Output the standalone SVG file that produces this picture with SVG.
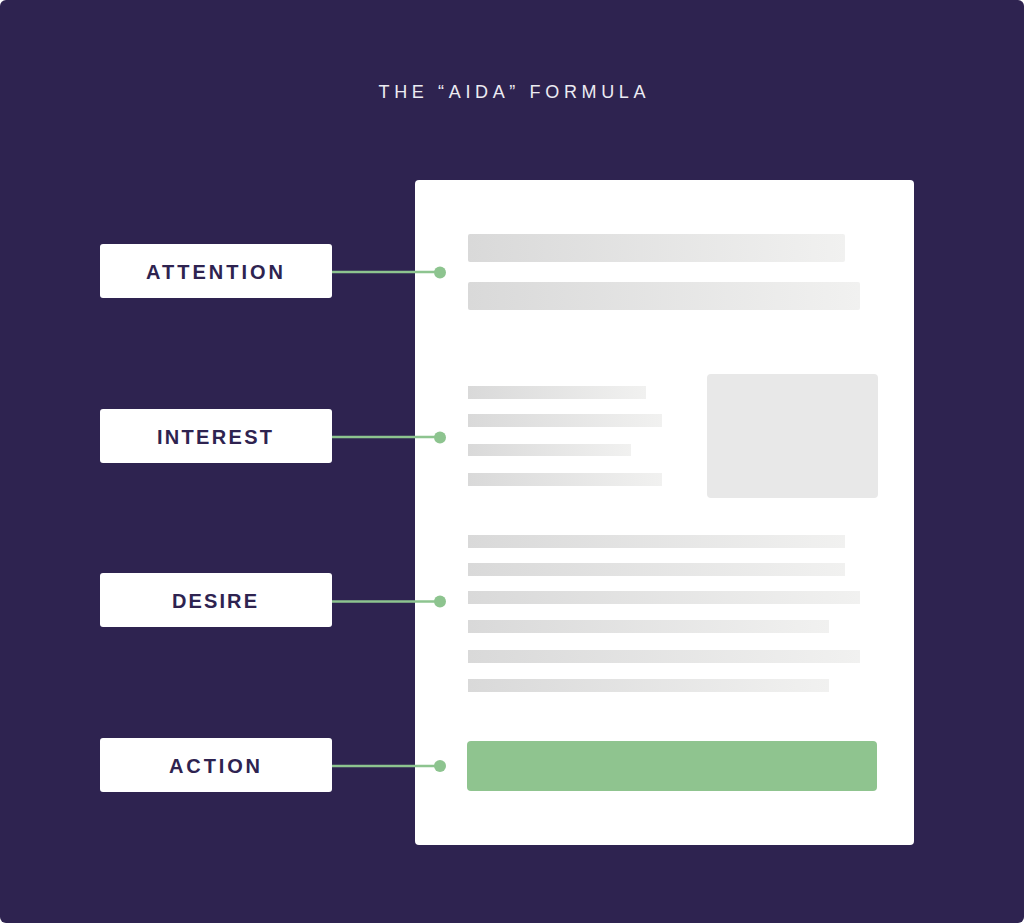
<svg xmlns="http://www.w3.org/2000/svg" width="1024" height="924" viewBox="0 0 1024 924">
  <defs>
    <linearGradient id="bar" x1="0" y1="0" x2="1" y2="0">
      <stop offset="0" stop-color="#d9d9d9"/>
      <stop offset="1" stop-color="#f1f1f0"/>
    </linearGradient>
    <style>
      .bg { fill: #2e2350; }
      .title { font-family: "Liberation Sans", Arial, sans-serif; font-size: 18px; fill: #ecebf2; }
      .box { fill: #ffffff; }
      .lbl { font-family: "Liberation Sans", Arial, sans-serif; font-size: 20px; font-weight: bold; fill: #2e2350; }
      .conn { stroke: #8dc48f; stroke-width: 2.5; fill: none; }
      .dot { fill: #8dc48f; }
      .doc { fill: #ffffff; }
      .bar { fill: url(#bar); }
      .img { fill: #e8e8e8; }
      .btn { fill: #8fc48f; }
    </style>
  </defs>
  <rect class="bg" x="0" y="0" width="1024" height="923" rx="6"/>
  <text class="title" x="512" y="98" text-anchor="middle" textLength="267" lengthAdjust="spacing">THE “AIDA” FORMULA</text>

  <g id="document">
    <rect class="doc" x="415" y="180" width="499" height="665" rx="4"/>
    <rect class="bar" x="468" y="234" width="377" height="28" rx="2"/>
    <rect class="bar" x="468" y="282" width="392" height="28" rx="2"/>
    <rect class="bar" x="468" y="386" width="178" height="13"/>
    <rect class="bar" x="468" y="414" width="194" height="13"/>
    <rect class="bar" x="468" y="444" width="163" height="12"/>
    <rect class="bar" x="468" y="473" width="194" height="13"/>
    <rect class="img" x="707" y="374" width="171" height="124" rx="4"/>
    <rect class="bar" x="468" y="535" width="377" height="13"/>
    <rect class="bar" x="468" y="563" width="377" height="13"/>
    <rect class="bar" x="468" y="591" width="392" height="13"/>
    <rect class="bar" x="468" y="620" width="361" height="13"/>
    <rect class="bar" x="468" y="650" width="392" height="13"/>
    <rect class="bar" x="468" y="679" width="361" height="13"/>
    <rect class="btn" x="467" y="741" width="410" height="50" rx="4"/>
  </g>

  <g id="connectors">
    <line class="conn" x1="332" y1="272" x2="440" y2="272"/>
    <circle class="dot" cx="440" cy="272.5" r="6"/>
    <line class="conn" x1="332" y1="437" x2="440" y2="437"/>
    <circle class="dot" cx="440" cy="437.5" r="6"/>
    <line class="conn" x1="332" y1="601.5" x2="440" y2="601.5"/>
    <circle class="dot" cx="440" cy="601.5" r="6"/>
    <line class="conn" x1="332" y1="766" x2="440" y2="766"/>
    <circle class="dot" cx="440" cy="766" r="6"/>
  </g>

  <g id="attention">
    <rect class="box" x="100" y="244" width="232" height="54" rx="3"/>
    <text class="lbl" x="214.5" y="279" text-anchor="middle" textLength="137" lengthAdjust="spacing">ATTENTION</text>
  </g>
  <g id="interest">
    <rect class="box" x="100" y="409" width="232" height="54" rx="3"/>
    <text class="lbl" x="214.5" y="444" text-anchor="middle" textLength="115" lengthAdjust="spacing">INTEREST</text>
  </g>
  <g id="desire">
    <rect class="box" x="100" y="573" width="232" height="54" rx="3"/>
    <text class="lbl" x="214.5" y="608" text-anchor="middle" textLength="85" lengthAdjust="spacing">DESIRE</text>
  </g>
  <g id="action">
    <rect class="box" x="100" y="738" width="232" height="54" rx="3"/>
    <text class="lbl" x="214.5" y="773" text-anchor="middle" textLength="91" lengthAdjust="spacing">ACTION</text>
  </g>
</svg>
